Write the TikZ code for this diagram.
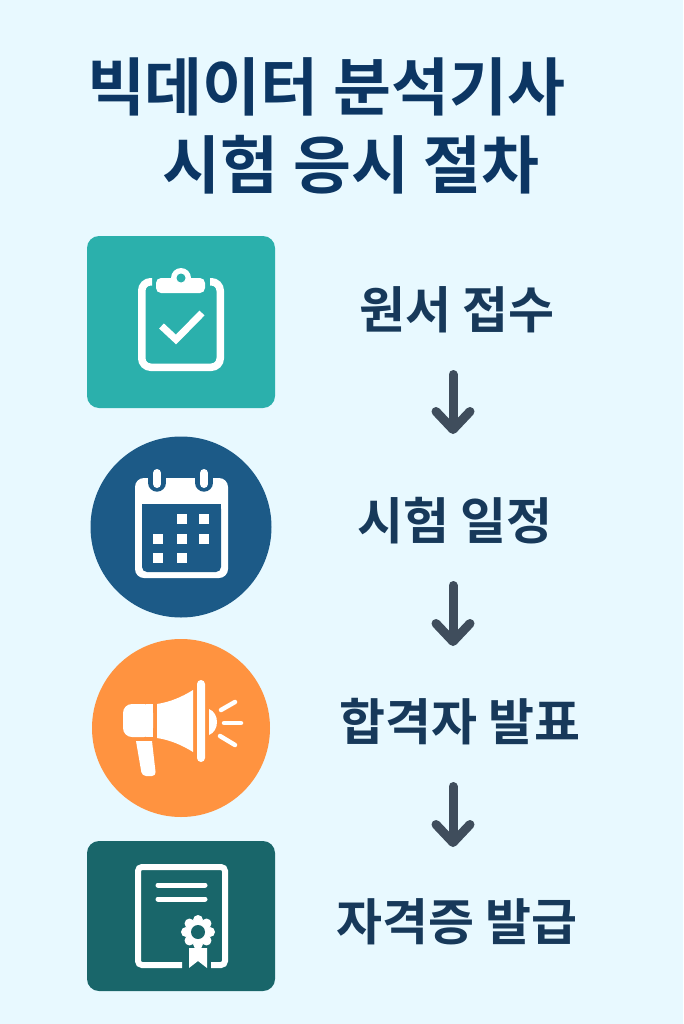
\documentclass[tikz,border=0pt]{standalone}
\usepackage{fontspec}
\setmainfont{Noto Sans CJK KR Bold}
\usetikzlibrary{arrows.meta}
\definecolor{bgblue}{HTML}{E8F9FF}
\definecolor{titleblue}{HTML}{0C3663}
\definecolor{labelblue}{HTML}{17395A}
\definecolor{arrowgray}{HTML}{3F4D5C}
\definecolor{tealbox}{HTML}{2BB0AC}
\definecolor{bluedisc}{HTML}{1C5A87}
\definecolor{orangedisc}{HTML}{FF9340}
\definecolor{darkteal}{HTML}{19666A}
\tikzset{
  titletext/.style={text=titleblue, font=\fontsize{63}{63}\selectfont, inner sep=0pt},
  steptext/.style={text=labelblue, font=\fontsize{50}{50}\selectfont, inner sep=0pt},
  flowarrow/.style={arrowgray, line width=9pt, line cap=round, shorten <=64.5pt,
    -{Straight Barb[length=18pt,width=34pt,line width=9pt,round]}},
  iconline/.style={white, line width=7.5pt},
  iconfill/.style={fill=white, draw=none}
}
\begin{document}
\begin{tikzpicture}[x=1pt,y=-1pt]
\fill[bgblue] (0,0) rectangle (683,1024);
\useasboundingbox (0,0) rectangle (683,1024);

% title
\node[titletext] (title1) at (326,87) {빅데이터 분석기사};
\node[titletext] (title2) at (351,165) {시험 응시 절차};

% step labels
\node[steptext] (step1) at (457,310) {원서 접수};
\node[steptext] (step2) at (455,521) {시험 일정};
\node[steptext] (step3) at (460,722) {합격자 발표};
\node[steptext] (step4) at (457,922) {자격증 발급};
\coordinate (flowaxis) at (453,0);

\draw[flowarrow, shorten >=87pt] (step1 -| flowaxis) -- (step2 -| flowaxis);
\draw[flowarrow, shorten >=76pt] (step2 -| flowaxis) -- (step3 -| flowaxis);
\draw[flowarrow, shorten >=75pt] (step3 -| flowaxis) -- (step4 -| flowaxis);

% backgrounds of icons
\fill[tealbox, rounded corners=12pt] (87,236) rectangle (275,408);
\fill[bluedisc] (181,527) circle (90.5);
\fill[orangedisc] (181,728) circle (89);
\fill[darkteal, rounded corners=12pt] (87,841) rectangle (275,991);

% clipboard
\draw[iconline, rounded corners=9pt] (152,281.75) -- (141.75,281.75) -- (141.75,367.25) -- (220.25,367.25) -- (220.25,281.75) -- (210,281.75);
\fill[iconfill, rounded corners=5pt] (156,278) rectangle (205,293);
\fill[iconfill] (181,278) circle (10);
\fill[tealbox] (181,278) circle (4.5);
\draw[iconline, line width=7pt] (161.5,326) -- (176,339.5) -- (202,313);

% calendar
\fill[iconfill, rounded corners=9pt] (135,478) rectangle (228,578);
\fill[bluedisc, rounded corners=5pt] (142,504) -- (221,504) -- (221,572) -- (142,572) -- cycle;
\fill[bluedisc] (142,504) rectangle (221,520);
\foreach \ringx in {157,204} {
  \draw[bluedisc, line width=18pt, line cap=round] (\ringx,473) -- (\ringx,482.7);
  \draw[white, line width=8pt, line cap=round] (\ringx,473) -- (\ringx,484);
}
\foreach \cellx/\celly in {182/519,204/519,158/539,182/539,204/539,158/558,182/558} {
  \fill[white] (\cellx-4.7,\celly-4.7) rectangle (\cellx+4.7,\celly+4.7);
}

% megaphone
\fill[iconfill, rounded corners=9pt] (153,704) -- (123,704) -- (123,737) -- (153,737) -- cycle;
\fill[iconfill] (146,704) rectangle (153,737);
\fill[iconfill] (157,704) .. controls (170,702) and (182,697) .. (193,690) -- (193,752)
  .. controls (182,745) and (170,740) .. (157,738) -- cycle;
\fill[iconfill, rounded corners=4pt] (197,680) rectangle (205,762);
\fill[iconfill] (209,709) .. controls (214,711) and (217,716) .. (217,722)
  .. controls (217,728) and (214,733) .. (209,735) -- cycle;
\draw[white, line width=4.5pt, line cap=round] (221,710) -- (235,702);
\draw[white, line width=4.5pt, line cap=round] (224,723) -- (241,723);
\draw[white, line width=4.5pt, line cap=round] (220,736) -- (235,745);
\fill[iconfill, rounded corners=4pt] (136,741) [sharp corners] -- (152,741) [rounded corners=4pt] -- (156,776) -- (142,776) [sharp corners] -- cycle;

% certificate
\draw[iconline, line width=6pt, rounded corners=4pt] (182,965) -- (138,965) -- (138,867) -- (225,867) -- (225,965) -- (211,965);
\draw[white, line width=5pt, line cap=round] (158,885) -- (205,885);
\draw[white, line width=5pt, line cap=round] (158,899) -- (205,899);
\fill[iconfill] (189,948) -- (207,948) -- (207,968) -- (198,961) -- (189,968) -- cycle;
\foreach \petal in {0,45,...,315} {
  \fill[iconfill] (198,932) ++(\petal:12) circle (5);
}
\fill[iconfill] (198,932) circle (12);
\fill[darkteal] (198,932) circle (7);
\end{tikzpicture}
\end{document}
